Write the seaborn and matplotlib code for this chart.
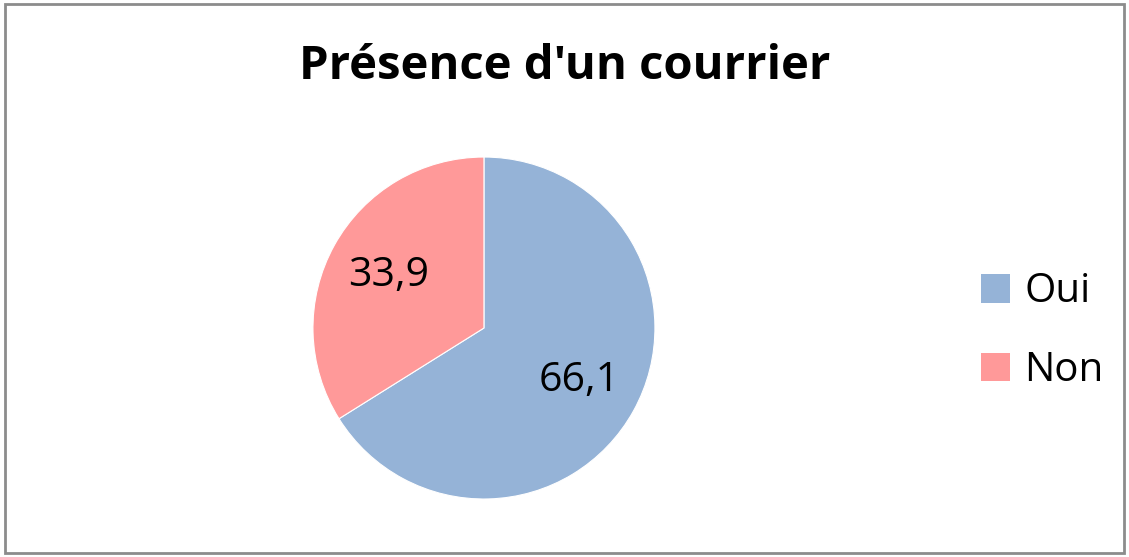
import matplotlib
matplotlib.use("Agg")
import matplotlib.pyplot as plt
import seaborn as sns
from matplotlib.patches import Rectangle, Patch

categories = ["Oui", "Non"]
values = [66.1, 33.9]
colors = ["#95B3D7", "#FF9999"]
title = "Présence d'un courrier"

sns.set_theme(style="white")
plt.rcParams['font.family'] = ['Open Sans', 'DejaVu Sans']
plt.rcParams['text.color'] = 'black'

fig = plt.figure(figsize=(11.29, 5.57), dpi=100)
ax = fig.add_axes([0.2772, 0.1041, 0.3029, 0.614])
wedges, texts, autotexts = ax.pie(
    values, colors=colors, startangle=90, counterclock=False,
    autopct=lambda p: f"{p:.1f}".replace('.', ','), pctdistance=0.635,
    wedgeprops=dict(linewidth=0.8, edgecolor="white"),
    textprops=dict(fontsize=29.5, color="black"))
ax.set_xlim(-1, 1)
ax.set_ylim(-1, 1)
ax.set_aspect('equal')
ax.axis('off')

fig.text(0.5, 0.88, title, ha='center', va='center', fontsize=34,
         fontweight='bold', color='black')

handles = [Patch(facecolor=c, edgecolor='none') for c in colors]
leg = fig.legend(handles, categories, loc='center left', bbox_to_anchor=(0.869, 0.405),
                 frameon=False, fontsize=29, handlelength=0.72, handleheight=0.72,
                 handletextpad=0.35, labelspacing=0.95, borderaxespad=0, borderpad=0)
for t in leg.get_texts():
    t.set_color('black')

fig.add_artist(Rectangle((0.0045, 0.007), 0.991, 0.985, transform=fig.transFigure,
                         fill=False, edgecolor='#8c8c8c', linewidth=2))
fig.savefig("out.png", dpi=100)
